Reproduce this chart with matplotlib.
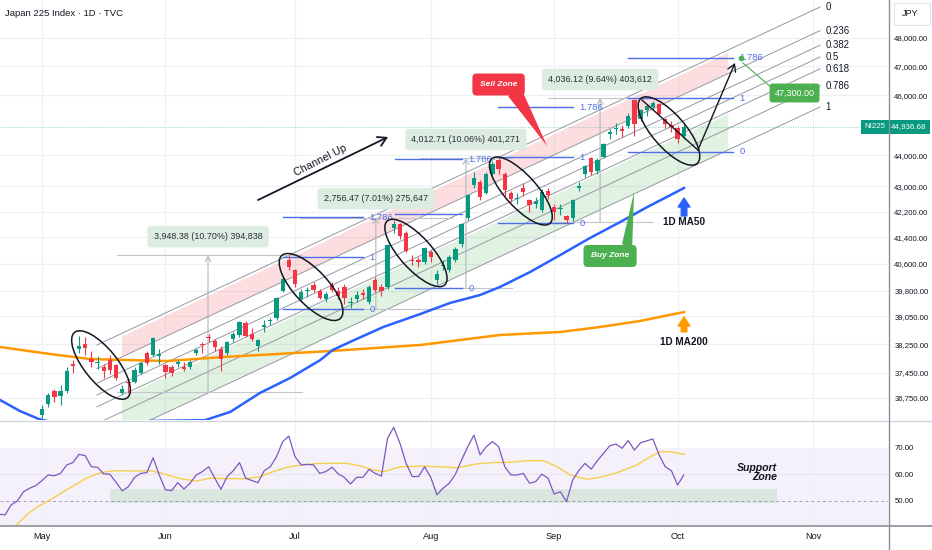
import numpy as np
import matplotlib
matplotlib.use("Agg")
import matplotlib.pyplot as plt
from matplotlib import font_manager
from matplotlib.patches import Ellipse, Polygon, Rectangle
from matplotlib.lines import Line2D
from matplotlib.ticker import NullLocator
from matplotlib.transforms import ScaledTranslation, blended_transform_factory

installed = {f.name for f in font_manager.fontManager.ttflist}
NARROW = "Liberation Sans Narrow" if "Liberation Sans Narrow" in installed else "Liberation Sans"
plt.rcParams["font.family"] = [NARROW, "DejaVu Sans"]

## data (bar index 0 = 1 May 2025, one bar per trading day)
#-------------------------------------------------------------------------------
month_labels = ["May", "Jun", "Jul", "Aug", "Sep", "Oct", "Nov"]
month_bars = [0, 20, 41, 63, 83, 103, 125]

opens = [36300, 36600, 36950, 36800, 36950, 37700, 38120, 38250, 37820, 37720,
         37600, 37800, 37650, 36900, 37200, 37200, 37450, 38000, 37950, 37900,
         37650, 37600, 37680, 37600, 37600, 38000, 38250, 38450, 38350, 38100,
         38000, 38400, 38500, 38850, 38550, 38200, 38750, 38900, 39000, 39800,
         40700, 40400, 39550, 39780, 39950, 39800, 39550, 39950, 39800, 39900,
         39420, 39550, 39730, 39450, 40100, 39900, 39900, 41700, 41800, 41550,
         40720, 40720, 40650, 40950, 40100, 40520, 40400, 40700, 41200, 42000,
         43050, 43150, 42800, 43400, 43850, 43400, 42800, 42600, 42950, 42550,
         42450, 42250, 42850, 42350, 42280, 42050, 42000, 42950, 43400, 43900,
         43500, 43950, 44700, 44850, 44850, 44950, 45850, 45200, 45500, 45600,
         45700, 45200, 45000, 44900, 44650]
highs = [36560, 36900, 37000, 37100, 37600, 37800, 38490, 38450, 38050, 37900,
         37700, 37950, 37700, 37100, 37300, 37600, 37750, 38050, 38450, 38100,
         37700, 37650, 37800, 37750, 37800, 38150, 38300, 38550, 38400, 38200,
         38350, 38600, 38900, 38900, 38700, 38400, 38950, 39000, 39600, 40200,
         40850, 40450, 39850, 39900, 40050, 39850, 39750, 40050, 39900, 40000,
         39600, 39800, 39850, 39950, 40200, 40000, 41200, 41900, 41850, 41600,
         40850, 40800, 41100, 41000, 40400, 40700, 40850, 41100, 41850, 42750,
         43450, 43200, 43450, 43800, 43900, 43450, 42850, 42800, 43100, 42600,
         42650, 42900, 42950, 42450, 42450, 42100, 42600, 43150, 43700, 43950,
         43900, 44400, 44850, 45050, 45000, 45400, 45850, 45550, 45700, 45800,
         45750, 45250, 45150, 44950, 45050]
lows = [36200, 36500, 36650, 36550, 36900, 37450, 38000, 37950, 37600, 37550,
        37300, 37400, 37250, 36850, 36900, 37150, 37400, 37650, 37900, 37700,
        37300, 37350, 37600, 37500, 37550, 37950, 38000, 38300, 38050, 37500,
        37950, 38300, 38450, 38450, 38350, 38050, 38600, 38800, 38950, 39750,
        40400, 39900, 39450, 39600, 39750, 39550, 39450, 39750, 39550, 39400,
        39300, 39450, 39550, 39400, 39750, 39650, 39850, 41550, 41350, 40950,
        40550, 40500, 40600, 40650, 40000, 40400, 40350, 40650, 41100, 41950,
        42950, 42550, 42750, 43350, 43400, 42700, 42500, 42450, 42700, 42200,
        42300, 42200, 42600, 41950, 42100, 41850, 41900, 42850, 43300, 43350,
        43400, 43900, 44550, 44700, 44600, 44900, 44650, 45150, 45300, 45500,
        45300, 44900, 44750, 44400, 44550]
closes = [36452, 36830, 36780, 36928, 37503, 37644, 38183, 38128, 37755, 37753,
          37498, 37529, 37298, 36985, 37160, 37532, 37724, 37722, 38433, 37965,
          37470, 37446, 37747, 37554, 37741, 38088, 38211, 38421, 38173, 37834,
          38311, 38536, 38885, 38488, 38403, 38354, 38790, 38942, 39584, 40150,
          40487, 39986, 39762, 39785, 39810, 39587, 39688, 39821, 39646, 39569,
          39459, 39678, 39663, 39901, 39819, 39774, 41171, 41826, 41456, 40998,
          40674, 40654, 41069, 40799, 40290, 40549, 40794, 41059, 41820, 42718,
          43274, 42649, 43378, 43714, 43546, 42888, 42610, 42633, 42807, 42394,
          42520, 42829, 42718, 42188, 42310, 41938, 42580, 43018, 43643, 43459,
          43837, 44372, 44768, 44902, 44790, 45303, 45045, 45493, 45630, 45754,
          45354, 45043, 44932, 44550, 44936.68]
last_price = 44936.68

# moving averages (bar, price)
ma50_bars = [-6.8, -3.6, -0.5, 1.5, 5, 10, 15, 17.5, 22, 26.4, 30.5, 35.3, 40.2,
             45.1, 47.1, 49.9, 55.3, 61.3, 66.1, 71.0, 74.2, 79.1, 84.0, 88.8,
             93.7, 98.1, 104.05]
ma50_vals = [36695, 36399, 36180, 36100, 35950, 35900, 36000, 36130, 36140, 36150,
             36372, 36886, 37299, 37800, 38082, 38309, 38737, 39112, 39433, 39668,
             39904, 40351, 40863, 41381, 41875, 42344, 42945]
ma200_bars = [-6.8, 1.3, 7.8, 20.3, 29.3, 46.7, 61.3, 74.2, 84.0, 90.4, 96.9, 104.05]
ma200_vals = [38167, 37969, 37828, 37772, 37884, 38053, 38224, 38508, 38594, 38737,
              38910, 39170]

# RSI(14) per bar, starting at bar -7
rsi_start = -7
rsi_vals = [45.0, 44.7, 48.5, 50.0, 53.5, 54.8, 55.8,
            57.7, 59.8, 59.5, 60.4, 63.6, 64.5, 67.6, 67.1, 62.9, 62.7,
            60.2, 60.1, 57.0, 53.8, 55.4, 58.9, 60.4, 60.7, 66.3, 59.8,
            54.2, 53.9, 56.9, 54.5, 56.7, 59.8, 61.1, 62.9, 58.6, 54.4,
            59.2, 61.4, 64.5, 58.6, 57.7, 56.9, 61.4, 62.9, 66.7, 72.4,
            74.5, 66.7, 63.6, 63.8, 63.6, 60.4, 61.1, 62.7, 60.2, 58.9,
            56.4, 58.9, 58.9, 61.9, 60.4, 59.4, 73.7, 77.8, 71.8, 64.2,
            59.2, 59.2, 62.9, 58.9, 52.3, 54.8, 56.7, 60.1, 65.5, 70.5,
            74.9, 67.4, 70.5, 72.4, 70.5, 62.9, 59.8, 59.8, 60.4, 56.7,
            57.3, 60.1, 58.6, 52.6, 53.5, 49.7, 57.9, 61.5, 64.2, 62.0,
            65.2, 68.0, 70.8, 71.5, 69.9, 72.8, 69.2, 72.0, 72.7, 73.4,
            67.4, 62.9, 61.4, 56.0, 59.8]
rsi_ma_bars = [-4.3, -2.5, -0.9, 0.8, 2.4, 4.0, 5.6, 7.2, 8.9, 10.5, 12.1, 14.8,
               17.5, 19.1, 20.8, 22.9, 25.1, 27.2, 29.9, 33.2, 35.4, 37.5, 39.7,
               41.8, 44.5, 47.2, 49.4, 51.6, 53.7, 55.4, 58.1, 61.3, 64.5, 67.2,
               70.5, 73.2, 75.9, 78.6, 81.3, 83.5, 85.6, 88.3, 91.0, 93.7, 96.4,
               98.6, 100.2, 101.8, 104.1]
rsi_ma_vals = [40.5, 44.7, 47.6, 49.7, 51.9, 54.2, 56.4, 58.6, 60.2, 61.1, 61.4, 61.3,
               61.4, 60.7, 59.4, 58.2, 57.5, 58.6, 58.4, 58.4, 59.2, 61.1, 62.7,
               63.5, 64.1, 64.2, 64.2, 63.2, 61.7, 61.1, 62.9, 63.2, 62.9, 62.5,
               64.0, 64.5, 64.6, 65.2, 65.2, 62.9, 59.8, 58.2, 59.2, 61.1, 63.6,
               66.7, 68.6, 68.6, 67.6]

price_ticks = [48000, 47000, 46000, 44000, 43000, 42200, 41400, 40600, 39800,
               39050, 38250, 37450, 36750]
rsi_ticks = [50, 60, 70]

# drawings: fib channel, fib extensions, price ranges
chan_levels = [0, 0.236, 0.382, 0.5, 0.618, 0.786, 1]
chan_start = (8.9, 38224)
chan_end = (126.1, 49117)
chan_ratio = 0.9285          # price(level 1) / price(level 0)

fib_levels = [0, 1, 1.786]
fib_start = [39.06, 57.2, 73.9, 94.98]
fib_end = [52.03, 68.07, 86.06, 111.99]
fib_base = [39258, 39860, 41844, 44108]
fib_span = [1544, 2250, 2100, 1787]
fib_show = [["0", "1", "1.786"], ["0", "1.786"], ["0", "1", "1.786"], ["0", "1", "1.786"]]

meas_left = [12.16, 41.8, 61.26, 82.0]
meas_right = [42.14, 66.45, 76.2, 99.0]
meas_mid = [26.9, 54.1, 68.7, 90.44]
meas_lo = [36901, 39258, 39888, 41868]
meas_hi = [40849, 42014, 43901, 45904]
meas_text = ["3,948.38 (10.70%) 394,838", "2,756.47 (7.01%) 275,647",
             "4,012.71 (10.06%) 401,271", "4,036.12 (9.64%) 403,612"]

# ellipses: bar, price, width px, height px, angle
circles = [(9.56, 37660, 84, 33, -51), (43.6, 39904, 86, 34, -47),
           (60.6, 40924, 86, 32, -48), (77.6, 42850, 87, 32, -48),
           (101.6, 44800, 86, 33, -49)]

support_zone = (11.0, 119.1, 49.3, 54.5)
#-------------------------------------------------------------------------------

UP = "#089981"
DOWN = "#F23645"
INK = "#131722"
GRID = "#eef0f4"
BLUE = "#2962FF"
FIBBLUE = "#4d6ee6"
GREY = "#9598a1"

W, H = 932, 550
fig = plt.figure(figsize=(W / 100, H / 100), dpi=100)
fig.patch.set_facecolor("white")
ax = fig.add_axes([0, 1 - 420 / H, 888 / W, 420 / H])
rax = fig.add_axes([0, 1 - 525 / H, 888 / W, 104 / H])

ax.set_yscale("log")
ax.set_autoscale_on(False)
xlim = (-6.81, 137.1)
ax.set_xlim(*xlim)
ax.set_ylim(36155, 49372)
rax.set_xlim(*xlim)
rax.set_ylim(40.9, 80.2)


def at_data(bx, py):
    return fig.dpi_scale_trans + ScaledTranslation(bx, py, ax.transData)


def chan_price(b, lev):
    t = (b - chan_start[0]) / (chan_end[0] - chan_start[0])
    p = chan_start[1] * (chan_end[1] / chan_start[1]) ** t
    return p * chan_ratio ** lev


# sell / buy zones of the channel
zl, zr = 12.97, 111.2
for lev_a, lev_b, col in [(0.03, 0.236, "#F23645"), (0.64, 1.0, "#4CAF50")]:
    pts = [(zl, chan_price(zl, lev_a)), (zr, chan_price(zr, lev_a)),
           (zr, chan_price(zr, lev_b)), (zl, chan_price(zl, lev_b))]
    ax.add_patch(Polygon(pts, closed=True, fc=col, alpha=0.16, lw=0, zorder=1))

for lev in chan_levels:
    ax.plot([chan_start[0], chan_end[0]],
            [chan_price(chan_start[0], lev), chan_price(chan_end[0], lev)],
            color=GREY, lw=0.7, zorder=2)
    ax.text(chan_end[0] + 0.9, chan_price(chan_end[0], lev), str(lev),
            fontsize=6.9, color=INK, ha="left", va="center", zorder=6)

# moving averages
ax.plot(ma200_bars, ma200_vals, color="#FF9800", lw=1.8, zorder=3)
ax.plot(ma50_bars, ma50_vals, color=BLUE, lw=1.8, zorder=3)

# price range tools
for i in range(len(meas_text)):
    for p in (meas_lo[i], meas_hi[i]):
        ax.plot([meas_left[i], meas_right[i]], [p, p], color="#c3c6ce", lw=0.8, zorder=2)
    ax.annotate("", xy=(meas_mid[i], meas_hi[i]), xytext=(meas_mid[i], meas_lo[i]),
                arrowprops=dict(arrowstyle="->,head_length=0.35,head_width=0.2",
                                color="#b2b5be", lw=0.8, shrinkA=0, shrinkB=0), zorder=2)
    ax.annotate(meas_text[i], xy=(meas_mid[i], meas_hi[i]), xytext=(0, 13.5),
                textcoords="offset points", ha="center", va="center", fontsize=6.4,
                color="#2a2e39", zorder=6,
                bbox=dict(boxstyle="round,pad=0.7,rounding_size=0.35", fc="#dcece0", ec="none"))

# fib extensions
for i in range(len(fib_base)):
    for lev in fib_levels:
        p = fib_base[i] + lev * fib_span[i]
        ax.plot([fib_start[i], fib_end[i]], [p, p], color=FIBBLUE, lw=1.0, zorder=4)
        lab = "1.786" if lev == 1.786 else str(lev)
        if lab in fib_show[i]:
            ax.text(fib_end[i] + 1.05, p, lab, fontsize=6.8, color=FIBBLUE,
                    ha="left", va="center", zorder=6)

# candles
x = np.arange(len(closes))
o = np.array(opens, float)
h = np.array(highs, float)
l = np.array(lows, float)
c = np.array(closes, float)
cols = np.where(c >= o, UP, DOWN)
ax.vlines(x, l, h, colors=cols, lw=0.8, zorder=5)
ax.bar(x, np.maximum(np.abs(c - o), c * 0.0006), bottom=np.minimum(o, c),
       width=0.7, color=cols, lw=0, zorder=5)

# current price line
ax.axhline(last_price, color=UP, lw=0.6, ls=(0, (1, 2)), alpha=0.6, zorder=2)

# ellipses
for bx, py, ew, eh, ang in circles:
    ax.add_patch(Ellipse((0, 0), ew / 100, eh / 100, angle=ang, transform=at_data(bx, py),
                         fill=False, ec=INK, lw=1.1, zorder=7))

# projection
ax.plot([97.24, 106.3], [45842, 44172], color=INK, lw=1.0, zorder=7)
ax.annotate("", xy=(112.3, 47118), xytext=(106.3, 44172),
            arrowprops=dict(arrowstyle="->,head_length=0.5,head_width=0.3", color=INK,
                            lw=1.0, shrinkA=0, shrinkB=0), zorder=7)
ax.plot([113.6, 118.3], [47118, 46252], color="#4CAF50", lw=0.8, zorder=6)
ax.plot([113.3], [47300], "o", ms=3, color="#4CAF50", zorder=8)
ax.text(121.96, 46081, "47,300.00", fontsize=6.5, color="white", ha="center", va="center",
        zorder=8, bbox=dict(boxstyle="round,pad=0.55,rounding_size=0.3", fc="#4CAF50", ec="none"))

# channel up arrow
ax.annotate("", xy=(56.08, 44601), xytext=(35.0, 42564),
            arrowprops=dict(arrowstyle="->,head_length=0.6,head_width=0.35", color=INK,
                            lw=1.3, shrinkA=0, shrinkB=0), zorder=7)
ax.text(45.06, 43847, "Channel Up", rotation=27, fontsize=7.8, color=INK,
        ha="center", va="center", rotation_mode="anchor", zorder=7)

# sell / buy callouts
ax.add_patch(Polygon([(75.53, 45978), (77.63, 46252), (81.85, 44304)], closed=True,
                     fc=DOWN, ec="none", zorder=8))
ax.text(73.99, 46372, "Sell Zone", fontsize=6.0, color="white", fontweight="bold",
        fontstyle="italic", ha="center", va="center", zorder=9,
        bbox=dict(boxstyle="round,pad=0.9,rounding_size=0.5", fc=DOWN, ec="none"))
ax.add_patch(Polygon([(94.0, 41198), (95.62, 41015), (95.95, 42818)], closed=True,
                     fc="#4CAF50", ec="none", zorder=8))
ax.text(92.06, 40833, "Buy Zone", fontsize=6.0, color="white", fontweight="bold",
        fontstyle="italic", ha="center", va="center", zorder=9,
        bbox=dict(boxstyle="round,pad=0.9,rounding_size=0.5", fc="#4CAF50", ec="none"))

# MA labels
ax.annotate("", xy=(104.05, 42628), xytext=(104.05, 42062),
            arrowprops=dict(arrowstyle="simple,head_width=0.85,head_length=0.65,tail_width=0.4",
                            color=BLUE, mutation_scale=10, shrinkA=0, shrinkB=0), zorder=7)
ax.text(104.05, 41875, "1D MA50", fontsize=7.2, fontweight="bold", color=INK,
        ha="center", va="center", zorder=7)
ax.annotate("", xy=(104.05, 39026), xytext=(104.05, 38600),
            arrowprops=dict(arrowstyle="simple,head_width=0.85,head_length=0.65,tail_width=0.4",
                            color="#FF9800", mutation_scale=10, shrinkA=0, shrinkB=0), zorder=7)
ax.text(104.05, 38309, "1D MA200", fontsize=7.2, fontweight="bold", color=INK,
        ha="center", va="center", zorder=7)

# axes styling
for a in (ax, rax):
    for s in a.spines.values():
        s.set_visible(False)
    a.set_xticks(month_bars)
    a.grid(True, color=GRID, lw=0.9)
    a.set_axisbelow(True)
    a.yaxis.tick_right()
    a.tick_params(axis="y", length=0, pad=4.5, labelsize=5.6, labelcolor=INK)

ax.yaxis.set_minor_locator(NullLocator())
ax.set_yticks(price_ticks)
ax.set_yticklabels([f"{v:,.2f}" for v in price_ticks])
ax.tick_params(axis="x", length=0, labelbottom=False)

rax.set_yticks(rsi_ticks)
rax.set_yticklabels([f"{v:.2f}" for v in rsi_ticks])
rax.set_xticklabels(month_labels)
rax.tick_params(axis="x", length=0, pad=5, labelsize=6.6, labelcolor=INK)
rax.grid(False, axis="y")
rax.axhline(60, color=GRID, lw=0.9, zorder=0)

# RSI panel
rax.axhspan(30, 70, color="#7E57C2", alpha=0.08, lw=0, zorder=0)
rax.axhline(50, color="#a39bbf", lw=0.7, ls=(0, (3, 3)), zorder=1)
sz = support_zone
rax.add_patch(Rectangle((sz[0], sz[2]), sz[1] - sz[0], sz[3] - sz[2], fc="#4CAF50",
                        alpha=0.15, lw=0, zorder=1))
rax.plot(np.arange(rsi_start, rsi_start + len(rsi_vals)), rsi_vals, color="#7E57C2",
         lw=0.9, zorder=3)
rax.plot(rsi_ma_bars, rsi_ma_vals, color="#F5CE4E", lw=1.0, zorder=2)
rax.text(119.1, 60.8, "Support\nZone", ha="right", va="center", ma="right", fontsize=7.6,
         fontweight="bold", fontstyle="italic", color=INK, linespacing=0.95, zorder=4)

# right-hand labels
blend = blended_transform_factory(ax.transAxes, ax.transData)
ax.text(1.0 + 3 / 888, last_price, "44,936.68", transform=blend, ha="left", va="center",
        fontsize=5.7, color="white", clip_on=False, zorder=10,
        bbox=dict(boxstyle="square,pad=0.4", fc=UP, ec="none"))
ax.text(1.0 - 3 / 888, last_price, "NI225", transform=blend, ha="right", va="center",
        fontsize=5.7, color="white", clip_on=False, zorder=10,
        bbox=dict(boxstyle="square,pad=0.4", fc=UP, ec="none"))

fig.text(902 / W, 1 - 14 / H, "JPY", fontsize=6.5, color=INK, ha="left", va="center")
fig.add_artist(Rectangle((894 / W, 1 - 25 / H), 36 / W, 22 / H, transform=fig.transFigure,
                         fill=False, ec="#e0e3eb", lw=0.8))
fig.text(5 / W, 1 - 14 / H, "Japan 225 Index · 1D · TVC", fontsize=6.8, color=INK,
         ha="left", va="center")

# panel separators
fig.add_artist(Line2D([0, 1], [1 - 420.5 / H] * 2, transform=fig.transFigure,
                      color="#d1d4dc", lw=1))
fig.add_artist(Line2D([0, 1], [1 - 525.5 / H] * 2, transform=fig.transFigure,
                      color="#8a8e97", lw=1.2))
fig.add_artist(Line2D([888.5 / W] * 2, [0, 1], transform=fig.transFigure,
                      color="#8a8e97", lw=1))

fig.savefig("out.png", dpi=100)
